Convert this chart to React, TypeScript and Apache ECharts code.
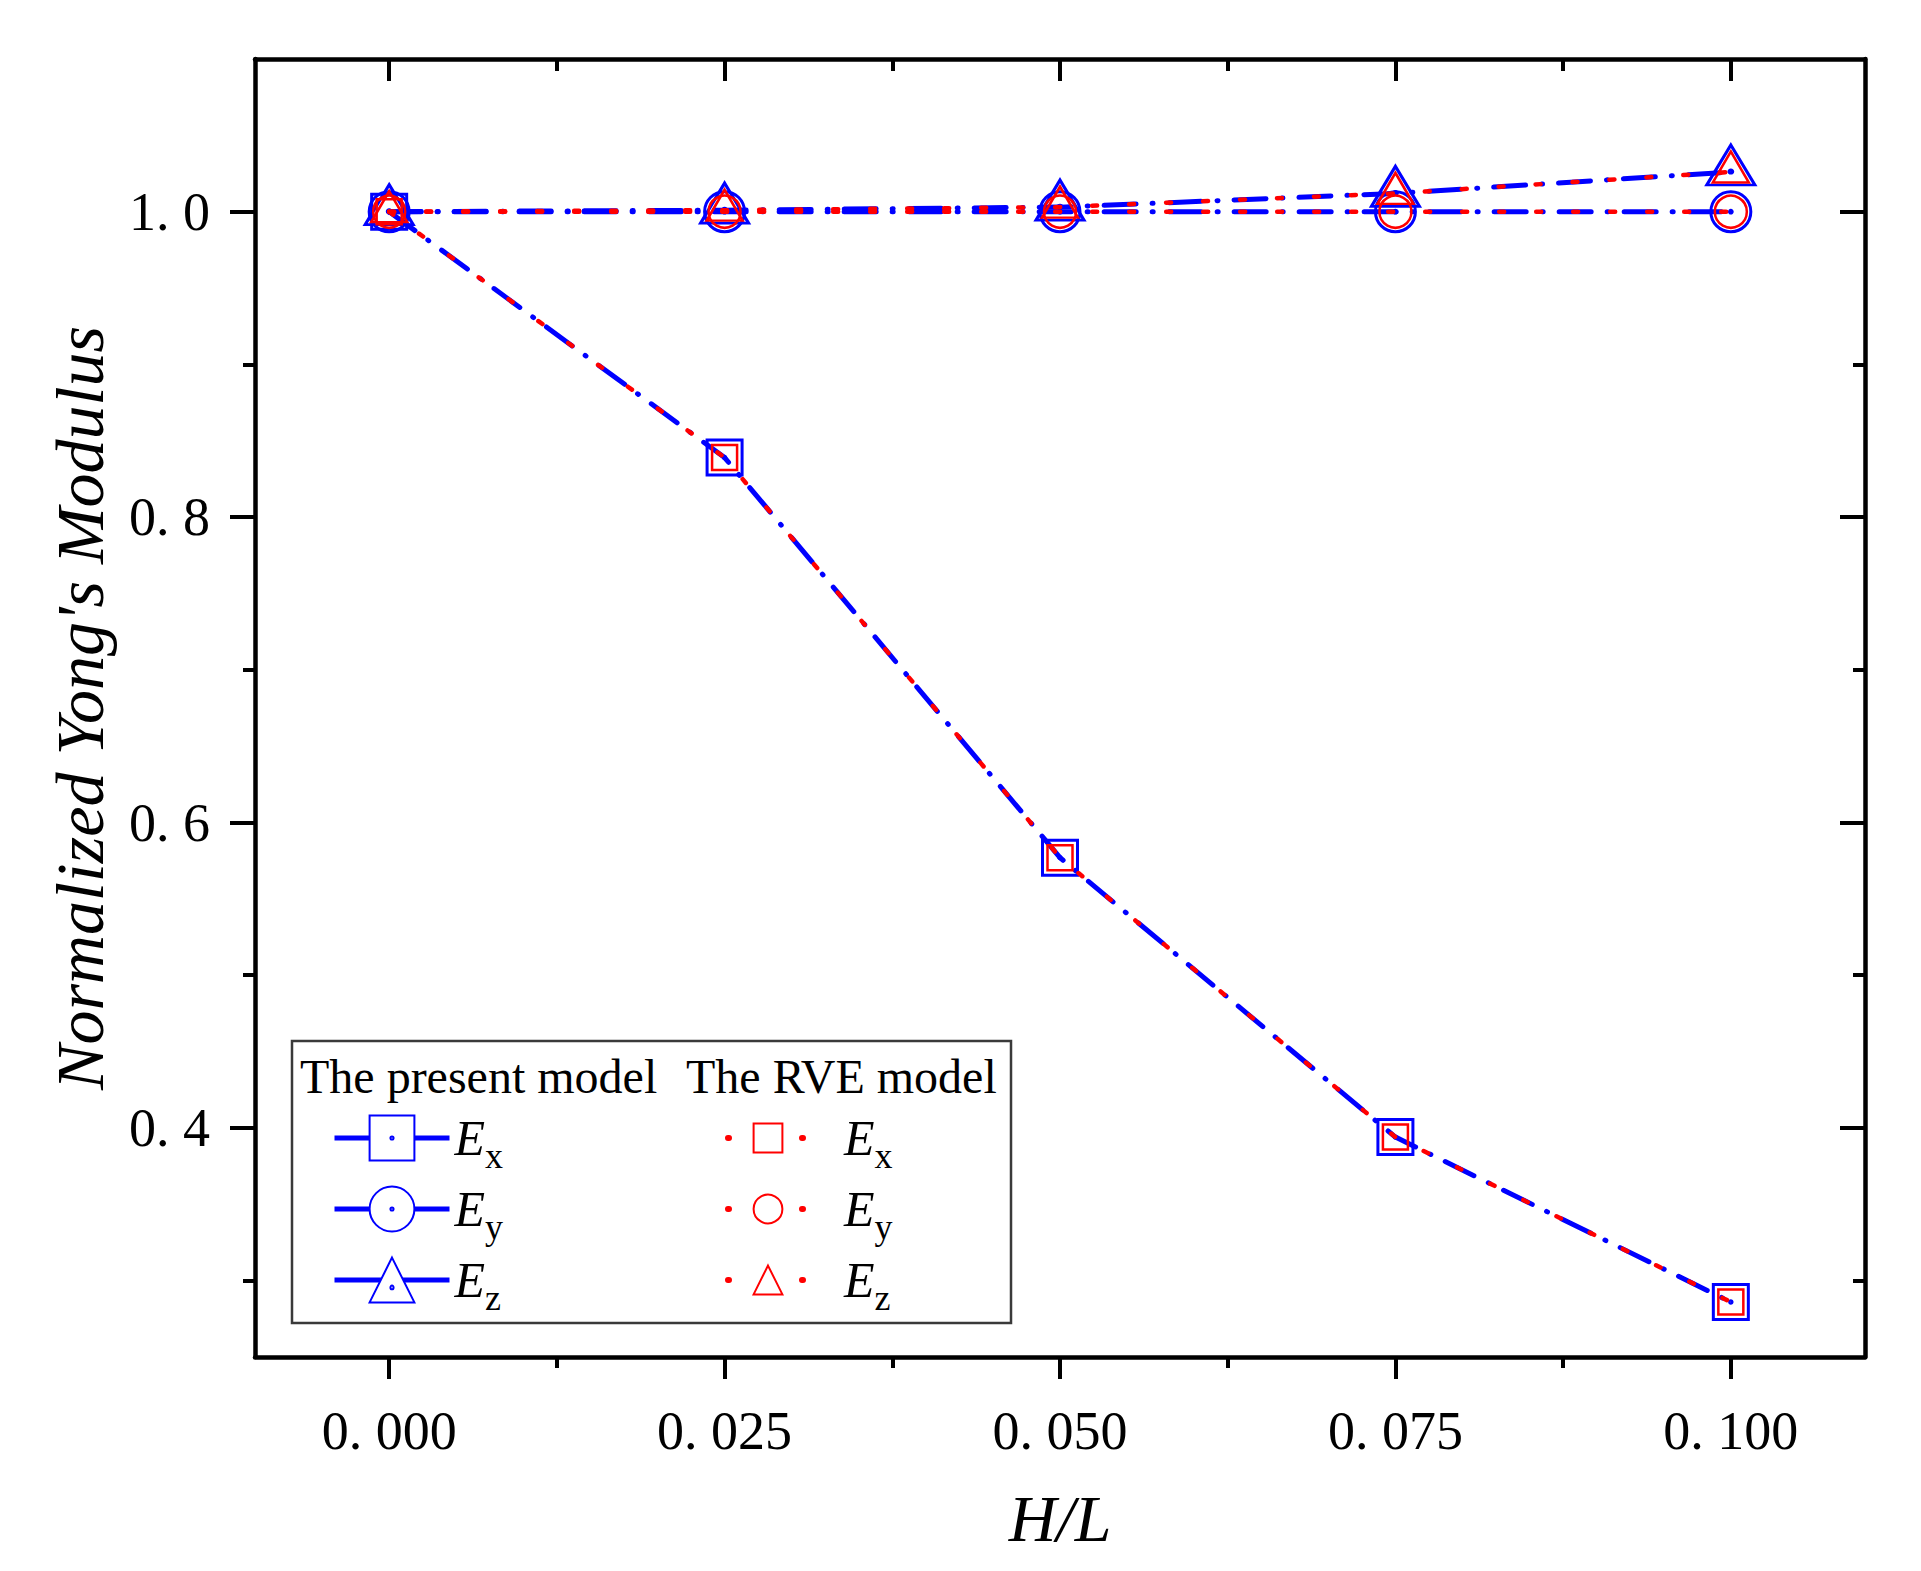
import React, { useEffect, useRef } from "react";
import * as echarts from "echarts";

// Normalized Young's modulus versus relative height H/L
const hOverL = [0, 0.025, 0.05, 0.075, 0.1];

const presentEx = [1.0, 0.839, 0.577, 0.394, 0.286];
const presentEy = [1.0, 1.0, 1.0, 1.0, 1.0];
const presentEz = [1.0, 1.001, 1.003, 1.012, 1.026];

const rveEx = [1.0, 0.839, 0.577, 0.394, 0.286];
const rveEy = [1.0, 1.0, 1.0, 1.0, 1.0];
const rveEz = [1.0, 1.001, 1.003, 1.012, 1.026];

const xMajorTicks = [0, 0.025, 0.05, 0.075, 0.1];
const xMinorTicks = [0.0125, 0.0375, 0.0625, 0.0875];
const yMajorTicks = [0.4, 0.6, 0.8, 1.0];
const yMinorTicks = [0.3, 0.5, 0.7, 0.9];

const components = ["x", "y", "z"];
const presentNames = components.map((c) => "present E" + c);
const rveNames = components.map((c) => "RVE E" + c);

const headerPresent = "The present model";
const headerRve = "The RVE model";
const xTitle = "H/L";
const yTitle = "Normalized Yong's Modulus";

const SERIF = "'Liberation Serif', 'Times New Roman', serif";
const X_MIN = -0.01;
const X_MAX = 0.11;
const Y_MIN = 0.25;
const Y_MAX = 1.1;

const BLUE = "#0000ff";
const RED = "#ff0000";
const CLEAR = "rgba(0,0,0,0)";

// Open markers with a small centre dot
const DOT = " M10,9.3A0.7,0.7 0 1 1 10,10.7A0.7,0.7 0 1 1 10,9.3Z";
const SQUARE_DOT = "path://M0,0H20V20H0Z" + DOT;
const CIRCLE_DOT = "path://M10,0A10,10 0 1 1 10,20A10,10 0 1 1 10,0Z" + DOT;
const TRIANGLE_DOT = "path://M10,0L20,17L0,17Z M10,10.6A0.7,0.7 0 1 1 10,12A0.7,0.7 0 1 1 10,10.6Z";

const toPoints = (ys: number[]) => hOverL.map((x, i) => [x, ys[i]]);
const fmtX = (v: number) => v.toFixed(3).replace(".", ". ");
const fmtY = (v: number) => v.toFixed(1).replace(".", ". ");

function xAxisDef(position: string, ticks: number[], len: number, inside: boolean, extra: any = {}) {
  return {
    type: "value",
    min: X_MIN,
    max: X_MAX,
    position,
    axisLine: { show: true, onZero: false, lineStyle: { color: "#000", width: 4.5 } },
    axisTick: { show: true, customValues: ticks, length: len, inside, lineStyle: { color: "#000", width: 4 } },
    axisLabel: { show: false },
    splitLine: { show: false },
    ...extra,
  };
}

function yAxisDef(position: string, ticks: number[], len: number, inside: boolean, extra: any = {}) {
  return {
    type: "value",
    min: Y_MIN,
    max: Y_MAX,
    position,
    axisLine: { show: true, onZero: false, lineStyle: { color: "#000", width: 4.5 } },
    axisTick: { show: true, customValues: ticks, length: len, inside, lineStyle: { color: "#000", width: 4 } },
    axisLabel: { show: false },
    splitLine: { show: false },
    ...extra,
  };
}

function blueSeries(name: string, ys: number[], symbol: string, size: number[], offset: number[]) {
  return {
    type: "line",
    name,
    data: toPoints(ys),
    symbol,
    symbolSize: size,
    symbolOffset: offset,
    z: 2,
    silent: true,
    emphasis: { disabled: true },
    lineStyle: { color: BLUE, width: 5, type: [32, 16, 1, 16], cap: "round" },
    itemStyle: { color: CLEAR, borderColor: BLUE, borderWidth: 3 },
  };
}

function redSeries(name: string, ys: number[], symbol: string, size: number[], offset: number[]) {
  return {
    type: "line",
    name,
    data: toPoints(ys),
    symbol,
    symbolSize: size,
    symbolOffset: offset,
    z: 3,
    silent: true,
    emphasis: { disabled: true },
    lineStyle: { color: RED, width: 4.5, type: [5, 32], cap: "round" },
    itemStyle: { color: CLEAR, borderColor: RED, borderWidth: 2.5 },
  };
}

// "E" with a lowered subscript; the subscript token fixes the row height
const keyRich = {
  g: { width: 31 },
  e: { fontFamily: SERIF, fontSize: 50, fontStyle: "italic", lineHeight: 50, color: "#000" },
  s: {
    fontFamily: SERIF,
    fontSize: 36,
    height: 36,
    lineHeight: 72,
    padding: [36, 0, 0, 0],
    verticalAlign: "bottom",
    color: "#000",
  },
};

export default function App() {
  const ref = useRef<HTMLDivElement>(null);

  useEffect(() => {
    if (!ref.current) return;
    const chart = echarts.init(ref.current, undefined, { renderer: "svg" });

    const option: any = {
      animation: false,
      backgroundColor: "#fff",
      grid: { left: 255, right: 56, top: 59, bottom: 214, containLabel: false },
      xAxis: [
        xAxisDef("bottom", xMajorTicks, 22, false, {
          axisLabel: {
            show: true,
            customValues: xMajorTicks,
            formatter: fmtX,
            margin: 47,
            fontFamily: SERIF,
            fontSize: 54,
            color: "#000",
          },
          name: xTitle,
          nameLocation: "middle",
          nameGap: 128,
          nameTextStyle: { fontFamily: SERIF, fontSize: 66, fontStyle: "italic", color: "#000" },
        }),
        xAxisDef("bottom", xMinorTicks, 11, false, { axisLine: { show: false, onZero: false } }),
        xAxisDef("top", xMajorTicks, 22, true),
        xAxisDef("top", xMinorTicks, 12, true, { axisLine: { show: false, onZero: false } }),
      ],
      yAxis: [
        yAxisDef("left", yMajorTicks, 25, false, {
          axisLabel: {
            show: true,
            customValues: yMajorTicks,
            formatter: fmtY,
            margin: 45,
            fontFamily: SERIF,
            fontSize: 54,
            color: "#000",
          },
          name: yTitle,
          nameLocation: "middle",
          nameGap: 141,
          nameTextStyle: { fontFamily: SERIF, fontSize: 68, fontStyle: "italic", color: "#000" },
        }),
        yAxisDef("left", yMinorTicks, 12, false, { axisLine: { show: false, onZero: false } }),
        yAxisDef("right", yMajorTicks, 25, true),
        yAxisDef("right", yMinorTicks, 12, true, { axisLine: { show: false, onZero: false } }),
      ],
      legend: [
        {
          orient: "vertical",
          left: 332,
          top: 1102,
          padding: 0,
          itemGap: -1,
          itemWidth: 115,
          itemHeight: 56,
          selectedMode: false,
          data: presentNames,
          formatter: (n: string) => `{e|E}{s|${n.slice(-1)}}`,
          itemStyle: { color: "#fff" },
          lineStyle: { type: "solid", width: 5, cap: "butt" },
          textStyle: { fontFamily: SERIF, color: "#000", rich: keyRich },
        },
        {
          orient: "vertical",
          left: 725,
          top: 1102,
          padding: 0,
          itemGap: -1,
          itemWidth: 80,
          itemHeight: 36,
          selectedMode: false,
          data: rveNames,
          formatter: (n: string) => `{g| }{e|E}{s|${n.slice(-1)}}`,
          itemStyle: { color: "#fff" },
          lineStyle: { type: [1, 36], width: 6, cap: "round" },
          textStyle: { fontFamily: SERIF, color: "#000", rich: keyRich },
        },
      ],
      graphic: [
        {
          type: "rect",
          shape: { x: 292, y: 1041, width: 719, height: 282 },
          style: { fill: CLEAR, stroke: "#3a3a3a", lineWidth: 2.5 },
        },
        {
          type: "text",
          x: 300,
          y: 1076,
          style: { text: headerPresent, fontFamily: SERIF, fontSize: 48, fill: "#000", verticalAlign: "middle" },
        },
        {
          type: "text",
          x: 686,
          y: 1076,
          style: { text: headerRve, fontFamily: SERIF, fontSize: 48, fill: "#000", verticalAlign: "middle" },
        },
      ],
      series: [
        blueSeries(presentNames[0], presentEx, SQUARE_DOT, [35, 35], [0, 0]),
        blueSeries(presentNames[1], presentEy, CIRCLE_DOT, [40, 40], [0, 0]),
        blueSeries(presentNames[2], presentEz, TRIANGLE_DOT, [48, 40], [0, -7]),
        redSeries(rveNames[0], rveEx, "rect", [25, 25], [0, 0]),
        redSeries(rveNames[1], rveEy, "circle", [32, 32], [0, 0]),
        redSeries(rveNames[2], rveEz, "triangle", [36, 31], [0, -5]),
      ],
    };

    chart.setOption(option);
    return () => chart.dispose();
  }, []);

  return (
    <div
      ref={ref}
      style={{ position: "fixed", left: 0, top: 0, width: 1921, height: 1571, background: "#fff" }}
    />
  );
}
